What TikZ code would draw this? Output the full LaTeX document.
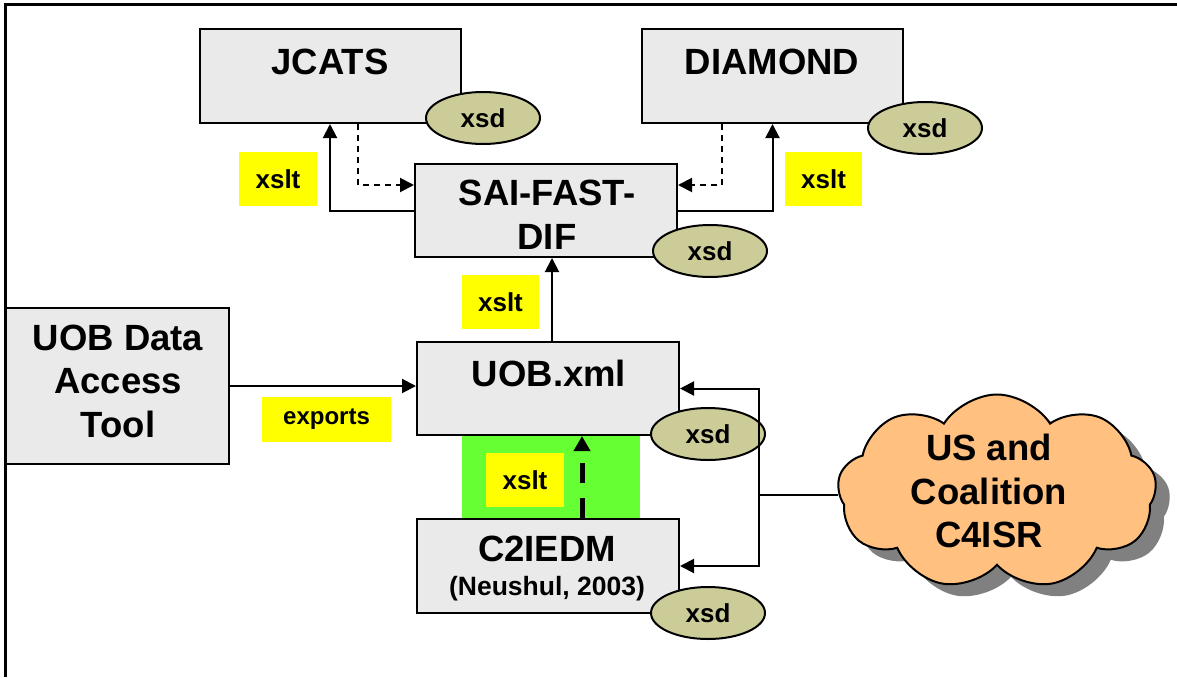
\documentclass[tikz,border=0pt]{standalone}
\usepackage{fontspec}
\setmainfont{Liberation Sans}
\usetikzlibrary{arrows.meta,shapes.geometric,shapes.symbols,shadows}
\definecolor{boxgray}{HTML}{EAEAEA}
\definecolor{xsdfill}{HTML}{CCCC99}
\definecolor{tagyellow}{HTML}{FFFF00}
\definecolor{greenbg}{HTML}{66FF33}
\definecolor{cloudfill}{HTML}{FFC080}
\definecolor{shadowgray}{HTML}{808080}
\tikzset{
  box/.style={draw, line width=2pt, fill=boxgray, inner sep=0pt},
  xsdnode/.style={ellipse, draw, line width=2pt, fill=xsdfill, minimum width=114pt, minimum height=52pt, inner sep=0pt, font=\fontsize{26}{30}\selectfont\bfseries},
  tag/.style={fill=tagyellow, inner sep=0pt, font=\fontsize{26}{30}\selectfont\bfseries},
  bigtext/.style={inner sep=0pt, align=center, font=\fontsize{36.5}{43.5}\selectfont\bfseries},
  conn/.style={line width=2pt, -{Triangle[length=14pt,width=14pt]}},
  dconn/.style={line width=2pt, dash pattern=on 6pt off 5pt, -{Triangle[length=14pt,width=14pt]}},
  thickdash/.style={line width=5pt, dash pattern=on 20pt off 15pt, -{Triangle[length=15pt,width=16pt]}},
}
\begin{document}
\begin{tikzpicture}[x=1pt,y=-1pt]
\useasboundingbox (0,0) rectangle (1177,677);
% frame
\draw[line width=3pt] (5,677) -- (5,5) -- (1177,5);
% green background
\fill[greenbg] (462,435) rectangle (640,519);
% boxes
\node[box, minimum width=261pt, minimum height=94pt] (jcats) at (330,76) {};
\node[box, minimum width=261pt, minimum height=94pt] (diamond) at (772.5,76) {};
\node[box, minimum width=262pt, minimum height=93pt] (sai) at (546,210.5) {};
\node[box, minimum width=262pt, minimum height=93pt] (uob) at (548,388.5) {};
\node[box, minimum width=262pt, minimum height=94pt] (c2) at (548,566) {};
\node[box, minimum width=223pt, minimum height=156pt] (tool) at (117.5,386) {};
% box texts
\node[bigtext] (jcatsT) at (330,62) {JCATS};
\node[bigtext] (diamondT) at (772,62) {DIAMOND};
\node[bigtext] (saiT) at (547,215) {SAI-FAST-\\DIF};
\node[bigtext] (uobT) at (549,373) {UOB.xml};
\node[bigtext] (c2T) at (547,549) {C2IEDM};
\node[inner sep=0pt, font=\fontsize{26.5}{30}\selectfont\bfseries] (c2sub) at (547,589) {(Neushul, 2003)};
\node[bigtext] (toolT) at (118,381) {UOB Data\\Access\\Tool};
% xsd ellipses
\node[xsdnode] (x1) at (483,118) {xsd};
\node[xsdnode] (x2) at (925,128) {xsd};
\node[xsdnode] (x3) at (710,251) {xsd};
\node[xsdnode] (x4) at (708,434) {xsd};
\node[xsdnode] (x5) at (708,613) {xsd};
% yellow tags
\node[tag, minimum width=78pt, minimum height=54pt] (t1) at (278,179) {xslt};
\node[tag, minimum width=77pt, minimum height=54pt] (t2) at (823.5,179) {xslt};
\node[tag, minimum width=77pt, minimum height=54pt] (t3) at (500.5,302) {xslt};
\node[tag, minimum width=78pt, minimum height=54pt] (t4) at (525,480) {xslt};
\node[tag, minimum width=129pt, minimum height=45pt, font=\fontsize{24}{28}\selectfont\bfseries] (t5) at (326.5,419.5) {exports};
% cloud
\node[cloud, cloud puffs=9, cloud puff arc=115, aspect=1.6, minimum width=319pt, minimum height=195pt, draw, line width=2pt, fill=cloudfill,
  drop shadow={shadow xshift=14pt, shadow yshift=-12pt, fill=shadowgray, opacity=1}] (cloud) at (997,492) {};
\node[bigtext] (cloudT) at (989,491) {US and\\Coalition\\C4ISR};
% connectors
\draw[conn] (sai.west) -| (jcats.south);
\draw[dconn] ([xshift=28pt]jcats.south) |- ([yshift=25.5pt]sai.west);
\draw[conn] (sai.east) -| (diamond.south);
\draw[dconn] ([xshift=-50.5pt]diamond.south) |- ([yshift=25.5pt]sai.east);
\draw[conn] ([xshift=4pt]uob.north) -- ([xshift=4pt]uob.north |- sai.south);
\draw[conn] (tool.east) -- (tool.east -| uob.west);
\draw[thickdash] ([xshift=34pt]c2.north) -- ([xshift=34pt]c2.north |- uob.south);
\coordinate (j) at (759,495);
\draw[line width=2pt] (cloud.west |- j) -- (j);
\draw[conn] (j) |- (uob.east);
\draw[conn] (j) |- (c2.east);
\end{tikzpicture}
\end{document}
